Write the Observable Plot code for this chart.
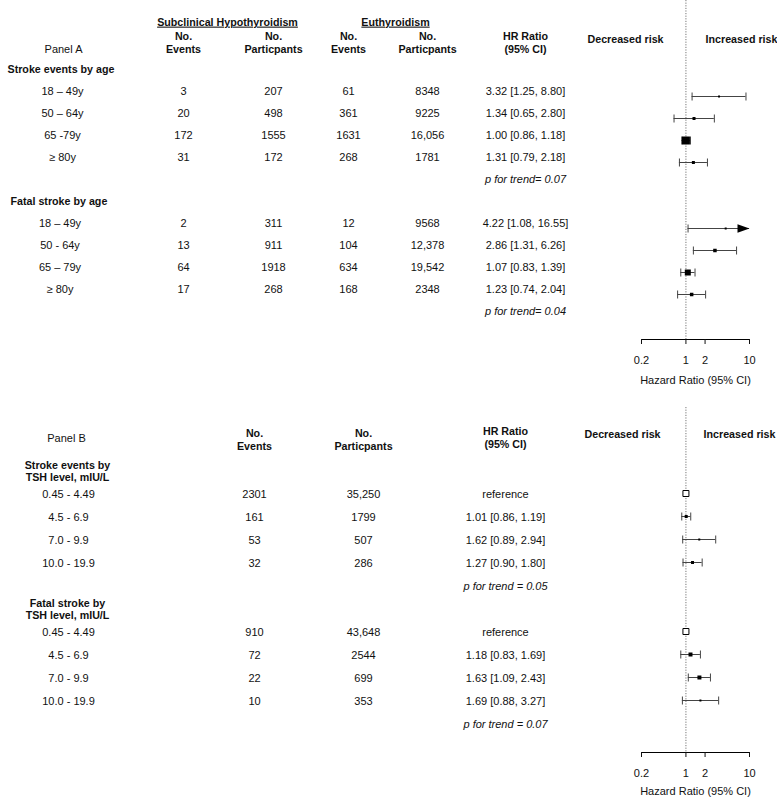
<!DOCTYPE html>
<html><head><meta charset="utf-8">
<script src="https://cdn.jsdelivr.net/npm/d3@7"></script>
<script src="https://cdn.jsdelivr.net/npm/@observablehq/plot@0.6"></script>
<style>
html,body{margin:0;padding:0;background:#fff;}
#chart{position:relative;width:777px;height:798px;}
.panel{position:absolute;left:0;width:777px;}
.panel svg{position:absolute;left:0;top:0;}
</style></head><body><div id="chart"></div>
<script>
// ---------------- Panel A: by age ----------------
const strokeAgeLabels = ["18 – 49y", "50 – 64y", "65 -79y", "≥ 80y"];
const strokeShEvents = ["3", "20", "172", "31"];
const strokeShParticipants = ["207", "498", "1555", "172"];
const strokeEuEvents = ["61", "361", "1631", "268"];
const strokeEuParticipants = ["8348", "9225", "16,056", "1781"];
const strokeHR = [3.32, 1.34, 1.00, 1.31];
const strokeLower = [1.25, 0.65, 0.86, 0.79];
const strokeUpper = [8.80, 2.80, 1.18, 2.18];
const strokeWeight = [2, 3, 8, 3];
const strokeTrend = "p for trend= 0.07";

const fatalAgeLabels = ["18 – 49y", "50 - 64y", "65 – 79y", "≥ 80y"];
const fatalShEvents = ["2", "13", "64", "17"];
const fatalShParticipants = ["311", "911", "1918", "268"];
const fatalEuEvents = ["12", "104", "634", "168"];
const fatalEuParticipants = ["9568", "12,378", "19,542", "2348"];
const fatalHR = [4.22, 2.86, 1.07, 1.23];
const fatalLower = [1.08, 1.31, 0.83, 0.74];
const fatalUpper = [16.55, 6.26, 1.39, 2.04];
const fatalWeight = [2, 3.5, 6, 3.5];
const fatalTrend = "p for trend= 0.04";

// ---------------- Panel B: by TSH level ----------------
const tshLabels = ["0.45 - 4.49", "4.5 - 6.9", "7.0 - 9.9", "10.0 - 19.9"];
const tshStrokeEvents = ["2301", "161", "53", "32"];
const tshStrokeParticipants = ["35,250", "1799", "507", "286"];
const tshStrokeHR = [1.00, 1.01, 1.62, 1.27];
const tshStrokeLower = [null, 0.86, 0.89, 0.90];
const tshStrokeUpper = [null, 1.19, 2.94, 1.80];
const tshStrokeWeight = [6, 3, 2, 3];
const tshStrokeTrend = "p for trend = 0.05";

const tshFatalEvents = ["910", "72", "22", "10"];
const tshFatalParticipants = ["43,648", "2544", "699", "353"];
const tshFatalHR = [1.00, 1.18, 1.63, 1.69];
const tshFatalLower = [null, 0.83, 1.09, 0.88];
const tshFatalUpper = [null, 1.69, 2.43, 3.27];
const tshFatalWeight = [6, 4, 4, 2];
const tshFatalTrend = "p for trend = 0.07";

const hrDomain = [0.2, 10];
const axisTicks = [0.2, 1, 2, 10];
const axisTitle = "Hazard Ratio (95% CI)";

// ---------------- helpers ----------------
const FONT = '"Liberation Sans", Arial, Helvetica, sans-serif';
const baseStyle = {fontFamily: FONT, fontSize: "11px", color: "#111", background: "transparent", overflow: "visible"};
const fmt = d3.format(".2f");
const hrText = (hr, lo, hi) => lo == null ? "reference" : `${fmt(hr)} [${fmt(lo)}, ${fmt(hi)}]`;

function buildRows(id, labels, cols, hr, lo, hi, w) {
  return labels.map((label, i) => ({
    key: id + i, label, cells: cols.map(c => c[i]),
    hr: hr[i], lo: lo[i], hi: hi[i], w: w[i], ref: lo[i] == null,
    hrText: hrText(hr[i], lo[i], hi[i])
  }));
}
function domainOf(sections) {
  return sections.flatMap(s => [s.id + "sec", ...s.rows.map(r => r.key), s.id + "p"]);
}

function makeTable(cfg) {
  const cells = [], titles = [], trends = [];
  for (const s of cfg.sections) {
    titles.push({x: s.titleX, key: s.id + "sec", text: s.title});
    for (const r of s.rows) {
      cells.push({x: s.labelX, key: r.key, text: r.label});
      r.cells.forEach((v, j) => cells.push({x: cfg.colX[j], key: r.key, text: v}));
      cells.push({x: cfg.hrX, key: r.key, text: r.hrText});
    }
    trends.push({x: cfg.hrX, key: s.id + "p", text: s.trend});
  }
  const marks = [
    Plot.text(cells, {x: "x", y: "key", text: "text", fontSize: 11, fill: "#111"}),
    Plot.text(titles, {x: "x", y: "key", text: "text", fontWeight: "bold", textAnchor: cfg.titleAnchor, lineHeight: 1.12, fontSize: 10.7, fill: "#111"}),
    Plot.text(trends, {x: "x", y: "key", text: "text", fontStyle: "italic", fontSize: 11, fill: "#111"}),
    ...cfg.headers.map(h => Plot.text(h.items, {
      x: "x", text: "text", frameAnchor: "top", lineAnchor: "middle", dy: h.dy,
      fontWeight: h.bold ? "bold" : "normal", fontSize: h.bold ? 10.7 : 11, lineHeight: 1.2, fill: "#111"
    }))
  ];
  const svg = Plot.plot({
    width: cfg.width, height: cfg.height, margin: 0,
    x: {type: "identity", axis: null},
    y: {type: "point", domain: domainOf(cfg.sections), range: cfg.rowRange, padding: 0, axis: null},
    style: baseStyle, marks
  });
  d3.select(svg).selectAll("text").filter(function () { return cfg.underline.includes(this.textContent); })
    .attr("text-decoration", "underline");
  return svg;
}

// custom glyphs: a filled arrow head (tip at the anchor) and a vertical whisker cap
const arrowHead = {draw(ctx) { ctx.moveTo(0, 0); ctx.lineTo(-12, -4.2); ctx.lineTo(-12, 4.2); ctx.closePath(); }};
const capGlyph = {draw(ctx) { ctx.moveTo(0, -4); ctx.lineTo(0, 4); }};

function makeForest(cfg) {
  const rows = cfg.sections.flatMap(s => s.rows);
  const ci = rows.filter(r => !r.ref);
  const refs = rows.filter(r => r.ref);
  const capsLo = ci.filter(r => r.lo >= hrDomain[0]);
  const capsHi = ci.filter(r => r.hi <= hrDomain[1]);
  const arrows = ci.filter(r => r.hi > hrDomain[1]);
  return Plot.plot({
    width: cfg.width, height: cfg.height,
    marginLeft: cfg.frame.left, marginRight: cfg.width - cfg.frame.right,
    marginTop: cfg.frame.top, marginBottom: cfg.height - cfg.frame.bottom,
    x: {type: "log", domain: hrDomain, clamp: true},
    y: {type: "point", domain: domainOf(cfg.sections), range: cfg.rowRange, padding: 0, axis: null},
    r: {type: "linear", domain: [0, 10], range: [0, 10 / Math.sqrt(Math.PI)]},
    style: baseStyle,
    marks: [
      Plot.ruleX([1], {stroke: "#777", strokeDasharray: "1.2,1.4"}),
      Plot.ruleY(ci, {y: "key", x1: "lo", x2: "hi", stroke: "#444"}),
      Plot.dot(capsLo, {x: "lo", y: "key", symbol: capGlyph, fill: "none", stroke: "#444", strokeWidth: 1}),
      Plot.dot(capsHi, {x: "hi", y: "key", symbol: capGlyph, fill: "none", stroke: "#444", strokeWidth: 1}),
      Plot.dot(arrows, {x: "hi", y: "key", symbol: arrowHead, fill: "#000", stroke: "none"}),
      Plot.dot(ci, {x: "hr", y: "key", r: "w", symbol: "square", fill: "#000", stroke: "none"}),
      Plot.dot(refs, {x: "hr", y: "key", r: "w", symbol: "square", fill: "#fff", stroke: "#000", strokeWidth: 1}),
      Plot.frame({anchor: "bottom", stroke: "#000"}),
      Plot.axisX({
        ticks: axisTicks, tickFormat: d => String(d), tickSize: 5, tickPadding: 12, fontSize: 11,
        label: axisTitle, labelAnchor: "center", labelOffset: cfg.labelOffset, labelArrow: "none", fill: "#111"
      })
    ]
  });
}

function addPanel(top, height, table, forest) {
  const div = document.createElement("div");
  div.className = "panel";
  div.style.top = top + "px";
  div.style.height = height + "px";
  div.append(table, forest);
  document.getElementById("chart").append(div);
}

// ---------------- Panel A ----------------
const sectionsA = [
  {id: "S", title: "Stroke events by age", titleX: 7, labelX: 62, trend: strokeTrend,
   rows: buildRows("S", strokeAgeLabels, [strokeShEvents, strokeShParticipants, strokeEuEvents, strokeEuParticipants], strokeHR, strokeLower, strokeUpper, strokeWeight)},
  {id: "F", title: "Fatal stroke by age", titleX: 10, labelX: 59.5, trend: fatalTrend,
   rows: buildRows("F", fatalAgeLabels, [fatalShEvents, fatalShParticipants, fatalEuEvents, fatalEuParticipants], fatalHR, fatalLower, fatalUpper, fatalWeight)}
];
const tableA = makeTable({
  width: 777, height: 390, sections: sectionsA, rowRange: [69, 311], titleAnchor: "start",
  colX: [183, 273, 348, 427], hrX: 525,
  underline: ["Subclinical Hypothyroidism", "Euthyroidism"],
  headers: [
    {dy: 21, bold: true, items: [{x: 227, text: "Subclinical Hypothyroidism"}, {x: 395, text: "Euthyroidism"}]},
    {dy: 41.5, bold: true, items: [
      {x: 183, text: "No.\nEvents"}, {x: 273, text: "No.\nParticpants"},
      {x: 348, text: "No.\nEvents"}, {x: 427, text: "No.\nParticpants"},
      {x: 525, text: "HR Ratio\n(95% CI)"}]},
    {dy: 38, bold: true, items: [{x: 625, text: "Decreased risk"}, {x: 741, text: "Increased risk"}]},
    {dy: 48, bold: false, items: [{x: 63, text: "Panel A"}]}
  ]
});
const forestA = makeForest({
  width: 777, height: 390, sections: sectionsA, rowRange: [69.2, 320], labelOffset: 44,
  frame: {left: 641, right: 749, top: 0, bottom: 339}
});
addPanel(0, 390, tableA, forestA);

// ---------------- Panel B ----------------
const sectionsB = [
  {id: "S", title: "Stroke events by\nTSH level, mIU/L", titleX: 67, labelX: 68, trend: tshStrokeTrend,
   rows: buildRows("S", tshLabels, [tshStrokeEvents, tshStrokeParticipants], tshStrokeHR, tshStrokeLower, tshStrokeUpper, tshStrokeWeight)},
  {id: "F", title: "Fatal stroke by\nTSH level, mIU/L", titleX: 67, labelX: 68, trend: tshFatalTrend,
   rows: buildRows("F", tshLabels, [tshFatalEvents, tshFatalParticipants], tshFatalHR, tshFatalLower, tshFatalUpper, tshFatalWeight)}
];
const tableB = makeTable({
  width: 777, height: 408, sections: sectionsB, rowRange: [79.7, 336], titleAnchor: "middle",
  colX: [254, 363], hrX: 505, underline: [],
  headers: [
    {dy: 48.5, bold: true, items: [{x: 254, text: "No.\nEvents"}, {x: 363, text: "No.\nParticpants"}]},
    {dy: 46.5, bold: true, items: [{x: 505, text: "HR Ratio\n(95% CI)"}]},
    {dy: 43, bold: true, items: [{x: 622, text: "Decreased risk"}, {x: 739, text: "Increased risk"}]},
    {dy: 47, bold: false, items: [{x: 66, text: "Panel B"}]}
  ]
});
const forestB = makeForest({
  width: 777, height: 408, sections: sectionsB, rowRange: [75.2, 336.8], labelOffset: 42,
  frame: {left: 641, right: 749, top: 17, bottom: 362}
});
addPanel(390, 408, tableB, forestB);
</script></body></html>
